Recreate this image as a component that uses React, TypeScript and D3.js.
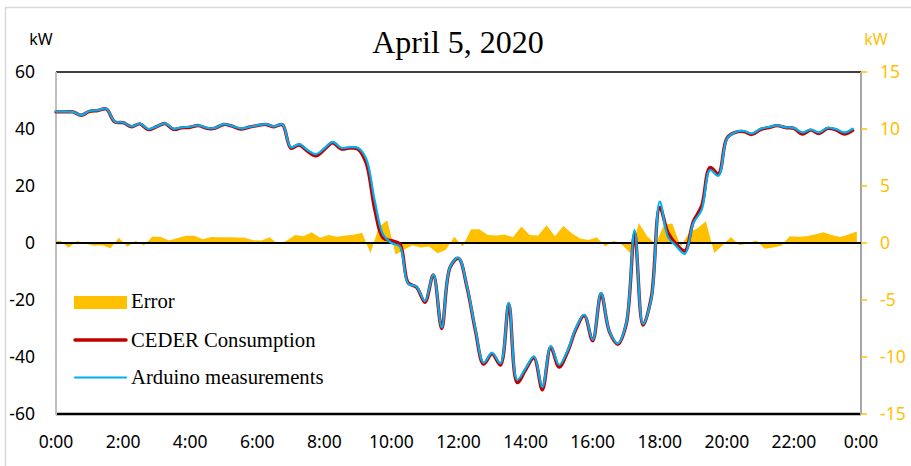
import React from "react";
import * as d3 from "d3";

// Chart text
const TITLE = "April 5, 2020";
const UNIT = "kW";
const SERIES_NAMES = ["Error", "CEDER Consumption", "Arduino measurements"];

// Axis ticks
const HOUR_TICKS = [0, 2, 4, 6, 8, 10, 12, 14, 16, 18, 20, 22, 24];
const LEFT_TICKS = [60, 40, 20, 0, -20, -40, -60];
const RIGHT_TICKS = [15, 10, 5, 0, -5, -10, -15];

// 15-minute samples, 0:00 .. 23:45 (kW)
const cederConsumption = [
  46, 46, 46, 44.8, 46.2, 46.5, 47, 42.5, 42.2, 40.8, 41.8, 39.8,
  40.8, 41.9, 39.9, 40.4, 40.6, 41.2, 40.2, 40.3, 41.6, 41, 40, 40.6,
  41.2, 41.6, 40.8, 41.5, 33.3, 34.4, 32.2, 30.6, 32.8, 35.2, 33, 33.3,
  33, 28, 12, 1.8, 0.8, -0.3, -14, -15.5, -20.8, -11.2, -30, -8.5,
  -5.4, -15.3, -30.5, -42.5, -38.9, -42.8, -21.4, -49, -44.5, -40.3, -51.5, -36.6,
  -43.5, -38.3, -30.3, -25.5, -34.3, -17.8, -31.2, -35.5, -28.5, 3.3, -28.8, -19,
  12.5, 3.5, -0.5, -2.8, 7.5, 13, 26.5, 24.3, 36.7, 38.8, 39.1, 38.1,
  39.8, 40.5, 41.2, 40.5, 40.2, 38.2, 39.6, 38.4, 40.2, 39.7, 38.2, 39.5,
];

const arduinoMeasurements = [
  46.1, 46.1, 46, 44.9, 46.3, 46.6, 47.1, 42.6, 42.3, 40.9, 41.9, 40,
  40.9, 42, 40.1, 40.6, 40.8, 41.3, 40.4, 40.4, 41.7, 41.1, 40.2, 40.7,
  41.3, 41.7, 40.9, 41.6, 33.6, 34.7, 32.6, 31.2, 33.2, 35.5, 33.4, 33.6,
  33.4, 29.5, 15, 3, 0, -1.2, -14.3, -15.3, -20.4, -11, -29.6, -8.3,
  -5.2, -15, -30, -42, -38.5, -42.2, -21, -48, -44, -39.8, -50.5, -36.2,
  -42.8, -37.8, -29.8, -25.1, -34, -17.5, -31, -35.2, -28.2, 4.5, -28.4, -19.5,
  14.5, 2, -1.2, -3.8, 7, 11.6, 25.6, 23.6, 36.5, 38.9, 39.3, 38.4,
  40, 40.7, 41.3, 40.6, 40.4, 38.8, 39.8, 38.8, 40.4, 40, 38.8, 40.1,
];

// Difference samples (kW, right axis): first at 0:00, then every 15 min from 0:07:30
const errorValues = [
  0.18, 0.2, -0.41, 0.18, -0.05, -0.25, -0.2, -0.47, 0.47, -0.32, 0.18, -0.2,
  0.56, 0.53, 0.23, 0.44, 0.64, 0.64, 0.32, 0.53, 0.5, 0.5, 0.48, 0.47,
  0.25, 0.23, 0.5, -0.12, 0.2, 0.7, 0.6, 0.94, 0.47, 0.7, 0.55, 0.65,
  0.72, 0.9, -0.9, 1.4, 2.0, -1.0, -0.6, -0.2, -0.4, -0.3, -0.9, -0.6,
  0.55, -0.3, 1.2, 1.2, 0.7, 0.65, 0.75, 0.5, 1.45, 0.7, 0.65, 1.55,
  0.6, 1.5, 0.85, 0.4, 0.26, 0.5, -0.3, 0.2, -0.15, -0.9, 1.75, 0.6,
  -0.1, 1.6, 1.7, -0.3, 0.9, 1.3, 1.9, -0.88, -0.2, 0.53, -0.2, -0.05,
  0.23, -0.5, -0.4, -0.25, 0.6, 0.55, 0.6, 0.75, 0.94, 0.7, 0.53, 0.75,
  1.0,
];

const powerHours = cederConsumption.map((_, i) => i * 0.25);
const errorHours = errorValues.map((_, i) => (i === 0 ? 0 : (i - 0.5) * 0.25));

const W = 911;
const H = 466;
const PLOT = { left: 56, right: 861, top: 72, bottom: 414 };

const GOLD = "#FFC000";
const RED = "#C00000";
const BLUE = "#00B0F0";
const SANS = "'Noto Sans', 'Open Sans', sans-serif";
const SERIF = "'Liberation Serif', 'Times New Roman', serif";

export default function App() {
  const x = d3.scaleLinear().domain([0, 24]).range([PLOT.left, PLOT.right]);
  const yL = d3.scaleLinear().domain([-60, 60]).range([PLOT.bottom, PLOT.top]);
  const yR = d3.scaleLinear().domain([-15, 15]).range([PLOT.bottom, PLOT.top]);

  const errArea = d3
    .area<number>()
    .x((_, i) => x(errorHours[i]))
    .y0(() => yR(0))
    .y1((d) => yR(d))(errorValues) as string;

  const smooth = d3
    .line<number>()
    .x((_, i) => x(powerHours[i]))
    .y((d) => yL(d))
    .curve(d3.curveCatmullRom.alpha(0.5));

  const cederPath = smooth(cederConsumption) as string;
  const arduinoPath = smooth(arduinoMeasurements) as string;

  const hourLabel = (h: number) => `${h % 24}:00`;

  const legendX0 = 74;
  const legendX1 = 127;
  const legendTextX = 131;

  return (
    <svg
      width={W}
      height={H}
      style={{ position: "absolute", left: 0, top: 0, background: "#fff" }}
    >
      {/* outer frame */}
      <rect x={5.5} y={7.5} width={W + 10} height={H + 10} fill="#fff" stroke="#d9d9d9" strokeWidth={1.5} />

      {/* title */}
      <text x={458} y={53} textAnchor="middle" fontFamily={SERIF} fontSize={32} fill="#000">
        {TITLE}
      </text>

      {/* unit labels */}
      <text x={41} y={45} textAnchor="middle" fontFamily={SANS} fontSize={16} fill="#000">
        {UNIT}
      </text>
      <text x={876} y={45} textAnchor="middle" fontFamily={SANS} fontSize={16} fill={GOLD}>
        {UNIT}
      </text>

      {/* difference area on secondary axis */}
      <path d={errArea} fill={GOLD} stroke="none" />

      {/* plot frame */}
      <line x1={PLOT.left} x2={PLOT.right} y1={PLOT.top} y2={PLOT.top} stroke="#000" strokeWidth={1.5} />
      <line x1={PLOT.left} x2={PLOT.right} y1={PLOT.bottom} y2={PLOT.bottom} stroke="#000" strokeWidth={2.5} />
      <line x1={PLOT.left} x2={PLOT.left} y1={PLOT.top} y2={PLOT.bottom + 1} stroke="#bfbfbf" strokeWidth={2} />
      <line x1={PLOT.right} x2={PLOT.right} y1={PLOT.top} y2={PLOT.bottom + 1} stroke="#a6a6a6" strokeWidth={2} />

      {/* zero line */}
      <line x1={PLOT.left} x2={PLOT.right} y1={yL(0)} y2={yL(0)} stroke="#000" strokeWidth={2} />

      {/* power series */}
      <path d={cederPath} fill="none" stroke={RED} strokeWidth={3.4} strokeLinejoin="round" strokeLinecap="round" />
      <path d={arduinoPath} fill="none" stroke={BLUE} strokeWidth={2.2} strokeLinejoin="round" strokeLinecap="round" />

      {/* left axis labels */}
      {LEFT_TICKS.map((t) => (
        <text
          key={`l${t}`}
          x={35}
          y={yL(t)}
          dy="0.36em"
          textAnchor="end"
          fontFamily={SANS}
          fontSize={17.5}
          fill="#000"
        >
          {t}
        </text>
      ))}

      {/* right axis ticks and labels */}
      {RIGHT_TICKS.map((t) => (
        <g key={`r${t}`}>
          <line x1={PLOT.right} x2={PLOT.right + 6} y1={yR(t)} y2={yR(t)} stroke={GOLD} strokeWidth={1.5} />
          <text x={880} y={yR(t)} dy="0.36em" textAnchor="start" fontFamily={SANS} fontSize={17.5} fill={GOLD}>
            {t}
          </text>
        </g>
      ))}

      {/* hour labels */}
      {HOUR_TICKS.map((h) => (
        <text key={`h${h}`} x={x(h)} y={448} textAnchor="middle" fontFamily={SANS} fontSize={17.5} fill="#000">
          {hourLabel(h)}
        </text>
      ))}

      {/* legend */}
      <rect x={legendX0} y={296} width={legendX1 - legendX0} height={13} fill={GOLD} />
      <text x={legendTextX} y={308} fontFamily={SERIF} fontSize={20.7} fill="#000">
        {SERIES_NAMES[0]}
      </text>
      <line x1={legendX0 + 1} x2={legendX1 - 1} y1={340} y2={340} stroke={RED} strokeWidth={3.4} strokeLinecap="round" />
      <text x={legendTextX} y={347} fontFamily={SERIF} fontSize={20.7} fill="#000">
        {SERIES_NAMES[1]}
      </text>
      <line x1={legendX0 + 1} x2={legendX1 - 1} y1={377.5} y2={377.5} stroke={BLUE} strokeWidth={2.2} strokeLinecap="round" />
      <text x={legendTextX} y={384} fontFamily={SERIF} fontSize={20.7} fill="#000">
        {SERIES_NAMES[2]}
      </text>
    </svg>
  );
}
